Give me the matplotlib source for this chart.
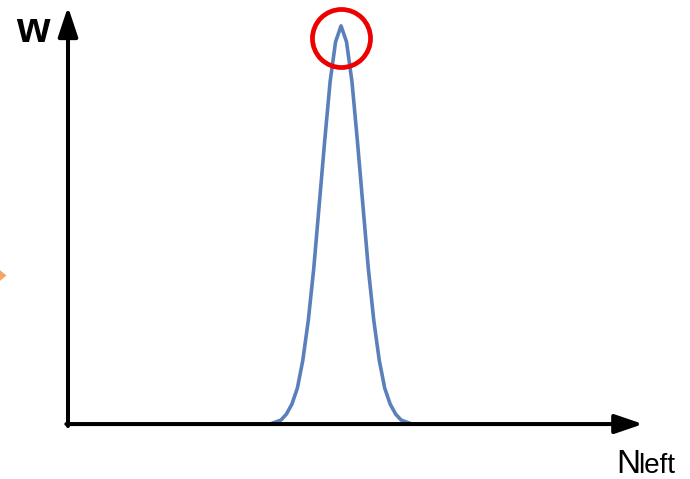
import matplotlib
matplotlib.use("Agg")
import matplotlib.pyplot as plt
from matplotlib.patches import Polygon
from matplotlib.transforms import ScaledTranslation

# Weight W as a function of N_left (sharply peaked around the middle)
n_left = list(range(37, 64))
w = [0.00, 0.005, 0.01, 0.025, 0.05, 0.09, 0.16, 0.26, 0.39, 0.55, 0.71, 0.86, 0.96,
     1.00,
     0.96, 0.86, 0.71, 0.55, 0.39, 0.26, 0.16, 0.09, 0.05, 0.025, 0.01, 0.005, 0.00]

y_label = "w"
x_label = "N"
x_label_sub = "left"

x_axis_end = 105.3
y_axis_end = 1.048

fig = plt.figure(figsize=(6.9, 4.79), dpi=100)
ax = fig.add_axes([0, 0, 1, 1])
ax.set_xlim(-12.45, 113.9)
ax.set_ylim(-0.138, 1.065)
ax.axis("off")

# distribution curve
ax.plot(n_left, w, color="#5b7fbb", lw=2.6, solid_joinstyle="round",
        solid_capstyle="round", zorder=2)

# coordinate axes with arrowheads
arrow_h = dict(arrowstyle="-|>,head_length=17,head_width=5.8", mutation_scale=1,
               lw=2.9, color="black", shrinkA=0, shrinkB=0)
arrow_v = dict(arrowstyle="-|>,head_length=18,head_width=6.0", mutation_scale=1,
               lw=2.9, color="black", shrinkA=0, shrinkB=0)
ax.annotate("", xy=(x_axis_end, 0), xytext=(-0.3, 0), arrowprops=arrow_h, zorder=3)
ax.annotate("", xy=(0, y_axis_end), xytext=(0, -0.005), arrowprops=arrow_v, zorder=3)

# highlight ring around the maximum
i_peak = w.index(max(w))
ring_offset = ax.transData + ScaledTranslation(0, -0.125, fig.dpi_scale_trans)
ax.plot(n_left[i_peak], w[i_peak], marker="o", ms=41.8, mfc="none",
        mec="#ee0000", mew=3.4, transform=ring_offset, zorder=4)

# orange pointer tip at the left edge
tip = Polygon([(-0.02, 2.105), (0.065, 2.035), (-0.02, 1.965)], closed=True,
              transform=fig.dpi_scale_trans, facecolor="#f2a566", edgecolor="none")
fig.add_artist(tip)

# axis labels
ax.text(16 / 690, 1 - 42 / 479, y_label, transform=ax.transAxes, fontsize=31,
        fontweight="bold", family="Liberation Sans", va="baseline", ha="left")
ax.text(616 / 690, 1 - 473 / 479, x_label, transform=ax.transAxes, fontsize=24,
        family="Liberation Sans", va="baseline", ha="left")
ax.text(638 / 690, 1 - 473 / 479, x_label_sub, transform=ax.transAxes, fontsize=20,
        family="Liberation Sans", va="baseline", ha="left")

fig.savefig("out.png", dpi=100)
